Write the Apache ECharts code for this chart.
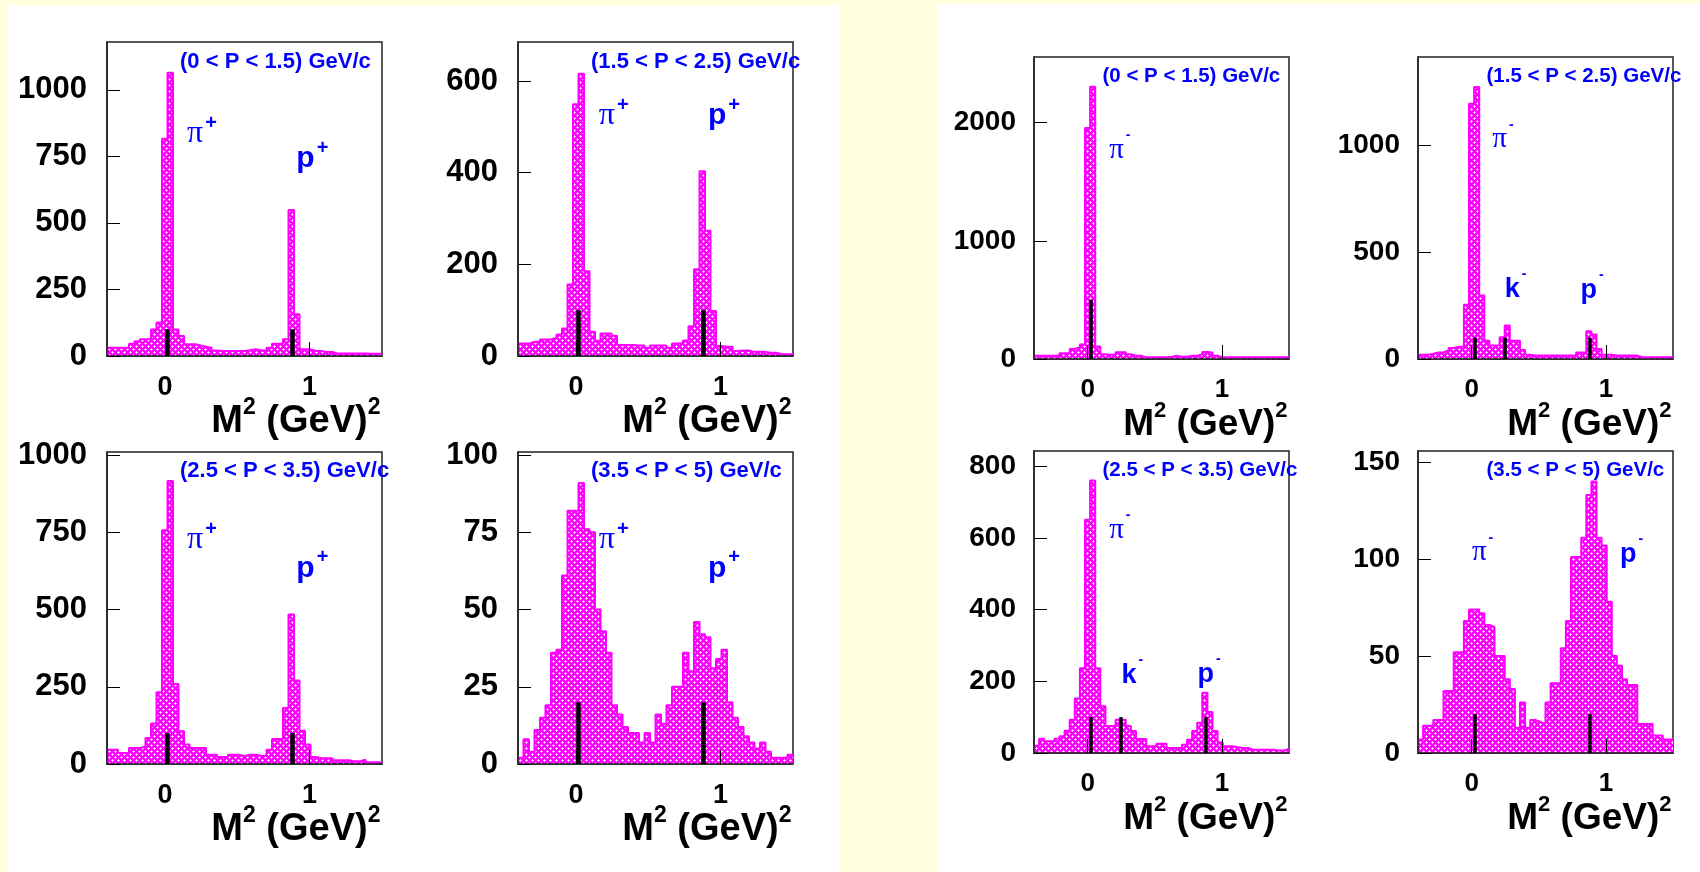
<!DOCTYPE html>
<html><head><meta charset="utf-8">
<script src="https://cdn.jsdelivr.net/npm/echarts@6.0.0/dist/echarts.min.js"></script>
<style>
html,body{margin:0;padding:0;background:#ffffe0;width:1700px;height:872px;overflow:hidden;}
#pl{position:absolute;left:7px;top:6px;width:832px;height:866px;background:#fff;}
#pr{position:absolute;left:937px;top:4px;width:763px;height:868px;background:#fff;}
#chart{position:absolute;left:0;top:0;width:1700px;height:872px;}
</style></head><body>
<div id="pl"></div><div id="pr"></div><div id="chart"></div>
<script>
// ---- binning of the M^2 histograms ----
const X_MIN = -0.4, X_MAX = 1.5, BIN_W = 0.038;   // 50 bins
const xTickValues = [0, 1];

// ---- positive particles (left block) ----
const posBins0 = [31,31,31,31,46,55,63,63,100,126,816,1064,100,75,44,44,40,35,31,21,19,19,19,19,19,22,25,22,19,31,46,46,63,549,157,25,25,19,19,15,15,9,9,9,9,9,9,8,8,8];
const posBins1 = [27,27,31,31,36,36,40,47,60,156,549,616,185,53,33,49,49,44,24,24,24,23,23,18,23,23,23,18,27,27,34,65,189,403,273,98,22,20,20,11,12,12,9,9,9,7,7,4,4,4];
const posBins2 = [46,46,36,36,52,52,57,84,131,232,757,916,259,106,63,52,52,52,30,30,23,23,30,30,25,30,30,27,27,46,81,81,181,484,270,108,63,23,19,19,19,12,12,12,9,9,14,6,6,6];
const posBins3 = [2,8,4,11,15,19,36,37,61,82,82,91,76,75,50,43,36,19,16,12,10,10,7,10,7,16,13,19,25,25,36,30,46,42,41,31,34,37,20,15,12,9,7,5,7,4,2,2,2,3];
// ---- negative particles (right block) ----
const negBins0 = [28,28,28,28,28,48,48,85,100,122,1955,2303,105,40,35,35,57,57,40,28,28,14,14,14,14,14,20,28,20,20,28,28,40,60,55,28,14,14,14,14,14,14,14,14,14,14,14,14,14,14];
const negBins1 = [20,20,25,31,31,40,52,58,58,254,1197,1275,298,86,63,63,102,157,86,86,42,20,16,16,16,16,16,16,16,16,16,31,31,130,115,47,20,20,16,16,16,16,16,8,8,8,8,8,8,8];
const negBins2 = [20,40,33,33,40,47,62,93,152,236,650,760,236,130,75,76,93,93,75,61,39,39,19,19,26,26,14,14,14,23,37,61,84,168,114,61,30,19,19,16,14,14,9,9,9,9,9,7,7,11];
const negBins3 = [7,14,14,17,17,32,32,52,52,68,74,74,72,66,65,50,50,38,33,13,26,13,17,16,15,26,36,36,54,68,101,101,111,133,140,111,107,78,50,45,38,35,35,15,15,15,9,9,7,7];

// ---- axes ----
const yMaxes = [1180, 685, 1010, 101, 2555, 1416, 842, 155.7];
const yTicks = [[0,250,500,750,1000],[0,200,400,600],[0,250,500,750,1000],[0,25,50,75,100],
                [0,1000,2000],[0,500,1000],[0,200,400,600,800],[0,50,100,150]];
const momentumRanges = ['(0 < P < 1.5) GeV/c','(1.5 < P < 2.5) GeV/c','(2.5 < P < 3.5) GeV/c','(3.5 < P < 5) GeV/c'];

// ---- expected M^2 markers ----
const massPi = 0.0195, massK = 0.244, massP = 0.88;
const markerMasses = [[massPi,massP],[massPi,massP],[massPi,massP],[massPi,massP],
                      [massPi],[massPi,massK,massP],[massPi,massK,massP],[massPi,massP]];
const markerHeights = [100,100,100,20,500,100,100,20];

// ---- particle labels: [name, charge, x, y] in data units ----
const particleLabels = [
  [['π','+',0.153,833],['p','+',0.908,741]],
  [['π','+',0.158,523],['p','+',0.913,524]],
  [['π','+',0.153,726],['p','+',0.908,634]],
  [['π','+',0.158,72.6],['p','+',0.913,63.5]],
  [['π','-',0.16,1775]],
  [['π','-',0.154,1035],['k','-',0.246,334],['p','-',0.811,331]],
  [['π','-',0.16,624],['k','-',0.252,222],['p','-',0.818,225]],
  [['π','-',0.002,103.8],['p','-',1.106,103.3]]
];

const allBins = [posBins0,posBins1,posBins2,posBins3,negBins0,negBins1,negBins2,negBins3];
const grids = [
  {left:107,top:42,width:275,height:314},{left:518,top:42,width:275,height:314},
  {left:107,top:452,width:275,height:312},{left:518,top:452,width:275,height:312},
  {left:1034,top:57,width:255,height:302},{left:1418,top:57,width:255,height:302},
  {left:1034,top:451,width:255,height:302},{left:1418,top:451,width:255,height:302}
];
const FONT = '"Liberation Sans", Arial, Helvetica, sans-serif';
const SERIF = '"Liberation Serif", "Times New Roman", serif';

// hatch pattern tile
const tile = document.createElement('canvas'); tile.width = 6; tile.height = 6;
(function(){
  const g = tile.getContext('2d');
  g.fillStyle = '#ff00ff'; g.fillRect(0,0,6,6);
  g.fillStyle = '#ffa8ff';
  [[1,0],[0,1],[2,1],[1,2],[4,3],[3,4],[5,4],[4,5]].forEach(p=>g.fillRect(p[0],p[1],1,1));
  g.fillStyle = '#ffffff';
  g.fillRect(1,1,1,1); g.fillRect(4,4,1,1);
})();
const hatch = {image: tile, repeat: 'repeat'};

function histPoints(vals){
  const pts = vals.map((v,k)=>[+(X_MIN + k*BIN_W).toFixed(4), v]);
  pts.push([X_MAX, vals[vals.length-1]]);
  return pts;
}

const chart = echarts.init(document.getElementById('chart'), null, {renderer:'canvas'});
const isRight = i => i >= 4;

const option = {
  animation: false,
  backgroundColor: 'transparent',
  grid: grids.map(g => Object.assign({show:true, borderColor:'#222', borderWidth:1.5,
          backgroundColor:'transparent', containLabel:false, outerBoundsMode:'none'}, g)),
  xAxis: grids.map((g,i)=>({
    type:'value', gridIndex:i, min:X_MIN, max:X_MAX, z:3,
    axisLine:{show:true, onZero:false, lineStyle:{color:'#222', width:1.5}},
    axisTick:{show:true, inside:true, length:14, customValues:xTickValues, lineStyle:{color:'#000', width:1}},
    axisLabel:{show:true, customValues:xTickValues, margin:18, color:'#000', formatter: v => String(v),
               fontFamily:FONT, fontWeight:'bold', fontSize: isRight(i)?26:27},
    splitLine:{show:false}, minorTick:{show:false}
  })),
  yAxis: grids.map((g,i)=>({
    type:'value', gridIndex:i, min:0, max:yMaxes[i], z:3,
    axisLine:{show:true, onZero:false, lineStyle:{color:'#222', width:1.5}},
    axisTick:{show:true, inside:true, length:13, customValues:yTicks[i], lineStyle:{color:'#000', width:1}},
    axisLabel:{show:true, customValues:yTicks[i], margin: isRight(i)?18:20, color:'#000', formatter: v => String(v),
               fontFamily:FONT, fontWeight:'bold', fontSize: isRight(i)?28:31},
    splitLine:{show:false}
  })),
  series: allBins.map((bins,i)=>({
    type:'line', xAxisIndex:i, yAxisIndex:i, step:'end', symbol:'none', silent:true,
    data: histPoints(bins),
    lineStyle:{color:'#ff00ff', width:2},
    areaStyle:{color:hatch, opacity:1},
    z:2,
    markLine:{
      silent:true, symbol:['none','none'], label:{show:false}, z:5,
      lineStyle:{color:'#000', width: isRight(i)?3.5:4.5, type:'solid', opacity:1},
      emphasis:{disabled:true},
      data: markerMasses[i].map(m=>[{coord:[m,0]},{coord:[m,markerHeights[i]]}])
    }
  }))
};
chart.setOption(option);

// ---- text annotations ----
const graphics = [];
grids.forEach((g,i)=>{
  const right = isRight(i);
  // momentum range
  graphics.push({type:'text', z:10,
    x: g.left + (right?68.5:73), y: g.top + (i===0||i===1?20:19.3),
    style:{text: momentumRanges[i%4], fill:'#0000ff', fontFamily:FONT,
           fontWeight:'bold', fontSize: right?20.5:22, align:'left', verticalAlign:'middle'}});
  // axis title
  const fsM = right?37:38, fsS = right?22:23;
  graphics.push({type:'text', z:10,
    x: g.left + g.width - 1.5, y: g.top + g.height + 62.5,
    style:{text:'{m|M}{s|2}{m| (GeV)}{s|2}', align:'right', verticalAlign:'middle',
      rich:{m:{fontFamily:FONT, fontWeight:'bold', fontSize:fsM, fill:'#000', lineHeight:44, verticalAlign:'bottom'},
            s:{fontFamily:FONT, fontWeight:'bold', fontSize:fsS, fill:'#000', lineHeight:14, verticalAlign:'top'}}}});
  // particle labels
  particleLabels[i].forEach(lab=>{
    const px = chart.convertToPixel({gridIndex:i}, [lab[2], lab[3]]);
    const fs = right?27:30;
    const isPi = lab[0]==='π';
    const plus = lab[1]==='+';
    graphics.push({type:'text', z:10, x: px[0], y: px[1]-2.6,
      style:{text:'{m|'+lab[0]+'}{s|'+lab[1]+'}', align:'left', verticalAlign:'middle',
        rich:{m:{fontFamily: isPi?SERIF:FONT, fontWeight: isPi?'normal':'bold', fontSize: isPi?fs+2:fs,
                 fill:'#0000ff', lineHeight:36, verticalAlign:'bottom'},
              s:{fontFamily:FONT, fontWeight:'bold', fontSize: plus?20:14, fill:'#0000ff',
                 lineHeight: plus?14:18, verticalAlign:'top', padding:[0,0,0,2]}}}});
  });
});
chart.setOption({graphic: graphics});
</script></body></html>
